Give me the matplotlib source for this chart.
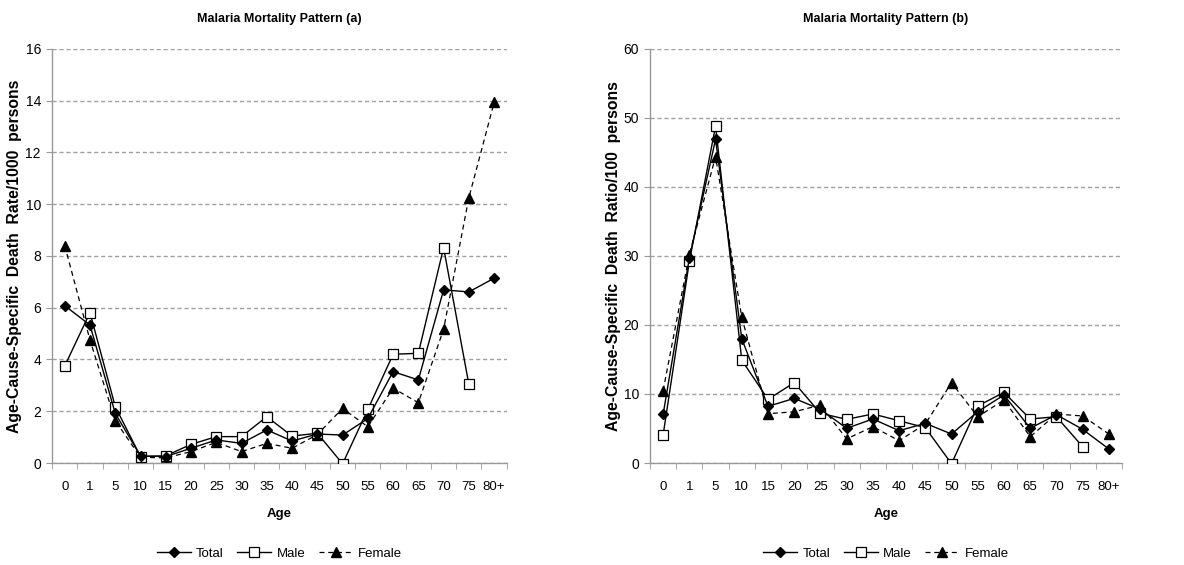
import matplotlib
matplotlib.use("Agg")
import matplotlib.pyplot as plt
from matplotlib.ticker import FixedLocator, NullFormatter

plt.rcParams['font.family'] = ['Liberation Sans', 'DejaVu Sans']

ages = ['0', '1', '5', '10', '15', '20', '25', '30', '35', '40', '45',
        '50', '55', '60', '65', '70', '75', '80+']

# death rate per 1000 persons
rate_total = [6.08, 5.33, 1.92, 0.27, 0.25, 0.57, 0.89, 0.76, 1.28, 0.85, 1.12,
              1.08, 1.72, 3.53, 3.21, 6.69, 6.61, 7.14]
rate_male = [3.75, 5.81, 2.18, 0.25, 0.28, 0.72, 1.02, 1.02, 1.79, 1.04, 1.15,
             -0.03, 2.07, 4.2, 4.24, 8.32, 3.04]
rate_female = [8.4, 4.75, 1.64, 0.22, 0.2, 0.44, 0.8, 0.44, 0.76, 0.57, 1.1,
               2.11, 1.4, 2.89, 2.33, 5.17, 10.25, 13.93]

# death ratio per 100 persons
ratio_total = [7.05, 29.7, 46.9, 18.0, 8.2, 9.37, 7.78, 5.03, 6.38, 4.68, 5.75,
               4.2, 7.44, 9.86, 5.03, 7.0, 4.88, 2.03]
ratio_male = [4.06, 29.2, 48.8, 14.9, 9.23, 11.64, 7.2, 6.33, 7.1, 6.13, 5.12,
              -0.1, 8.26, 10.24, 6.38, 6.71, 2.37]
ratio_female = [10.5, 30.2, 44.4, 21.1, 7.15, 7.42, 8.4, 3.5, 5.26, 3.23, 5.65,
                11.64, 6.7, 9.13, 3.81, 7.1, 6.81, 4.2]


def draw_panel(ax, total, male, female, title, ylabel, ymax, ystep, ylab_x):
    x = list(range(len(ages)))
    ax.plot(x[:len(total)], total, color='black', lw=1.0, marker='D',
            ms=5.5, mfc='black', mec='black', label='Total', zorder=4)
    ax.plot(x[:len(male)], male, color='black', lw=1.0, marker='s',
            ms=7, mfc='white', mec='black', mew=0.9, label='Male', zorder=3)
    ax.plot(x[:len(female)], female, color='black', lw=0.9, ls=(0, (4, 3)),
            marker='^', ms=7, mfc='black', mec='black', label='Female', zorder=2)

    ax.set_xlim(-0.5, len(ages) - 0.5)
    ax.set_ylim(0, ymax)
    ax.set_xticks(x)
    ax.set_xticklabels(ages, fontsize=9.5)
    ax.xaxis.set_minor_locator(FixedLocator([i - 0.5 for i in range(len(ages) + 1)]))
    ax.xaxis.set_minor_formatter(NullFormatter())
    ax.tick_params(axis='x', which='major', length=0, pad=13)
    ax.tick_params(axis='x', which='minor', length=4, color='#999999', direction='out')
    ax.set_yticks(range(0, ymax + 1, ystep))
    ax.tick_params(axis='y', length=4, color='#999999', labelsize=10, pad=4)

    ax.yaxis.grid(True, color='#a0a0a0', ls=(0, (3, 2)), lw=1.0)
    ax.set_axisbelow(True)
    for side in ['top', 'right']:
        ax.spines[side].set_visible(False)
    for side in ['left', 'bottom']:
        ax.spines[side].set_color('#999999')
        ax.spines[side].set_linewidth(1.0)

    ax.set_title(title, fontsize=9, fontweight='bold', pad=19)
    ax.set_xlabel('Age', fontsize=9.5, fontweight='bold', labelpad=11)
    ax.set_ylabel(ylabel, fontsize=11.3, fontweight='bold')
    ax.yaxis.set_label_coords(ylab_x, 0.5)
    ax.legend(loc='upper center', bbox_to_anchor=(0.5, -0.175), ncol=3,
              frameon=False, fontsize=9.5, handlelength=2.6, columnspacing=1.0,
              handletextpad=0.4)


fig = plt.figure(figsize=(11.84, 5.65), dpi=100)
ax1 = fig.add_axes([0.044, 0.1805, 0.384, 0.733])
ax2 = fig.add_axes([0.549, 0.1805, 0.3986, 0.733])

draw_panel(ax1, rate_total, rate_male, rate_female,
           'Malaria Mortality Pattern (a)',
           'Age-Cause-Specific  Death  Rate/1000  persons', 16, 2, -0.066)
draw_panel(ax2, ratio_total, ratio_male, ratio_female,
           'Malaria Mortality Pattern (b)',
           'Age-Cause-Specific  Death  Ratio/100  persons', 60, 10, -0.061)

fig.savefig('out.png', dpi=100, facecolor='white')
